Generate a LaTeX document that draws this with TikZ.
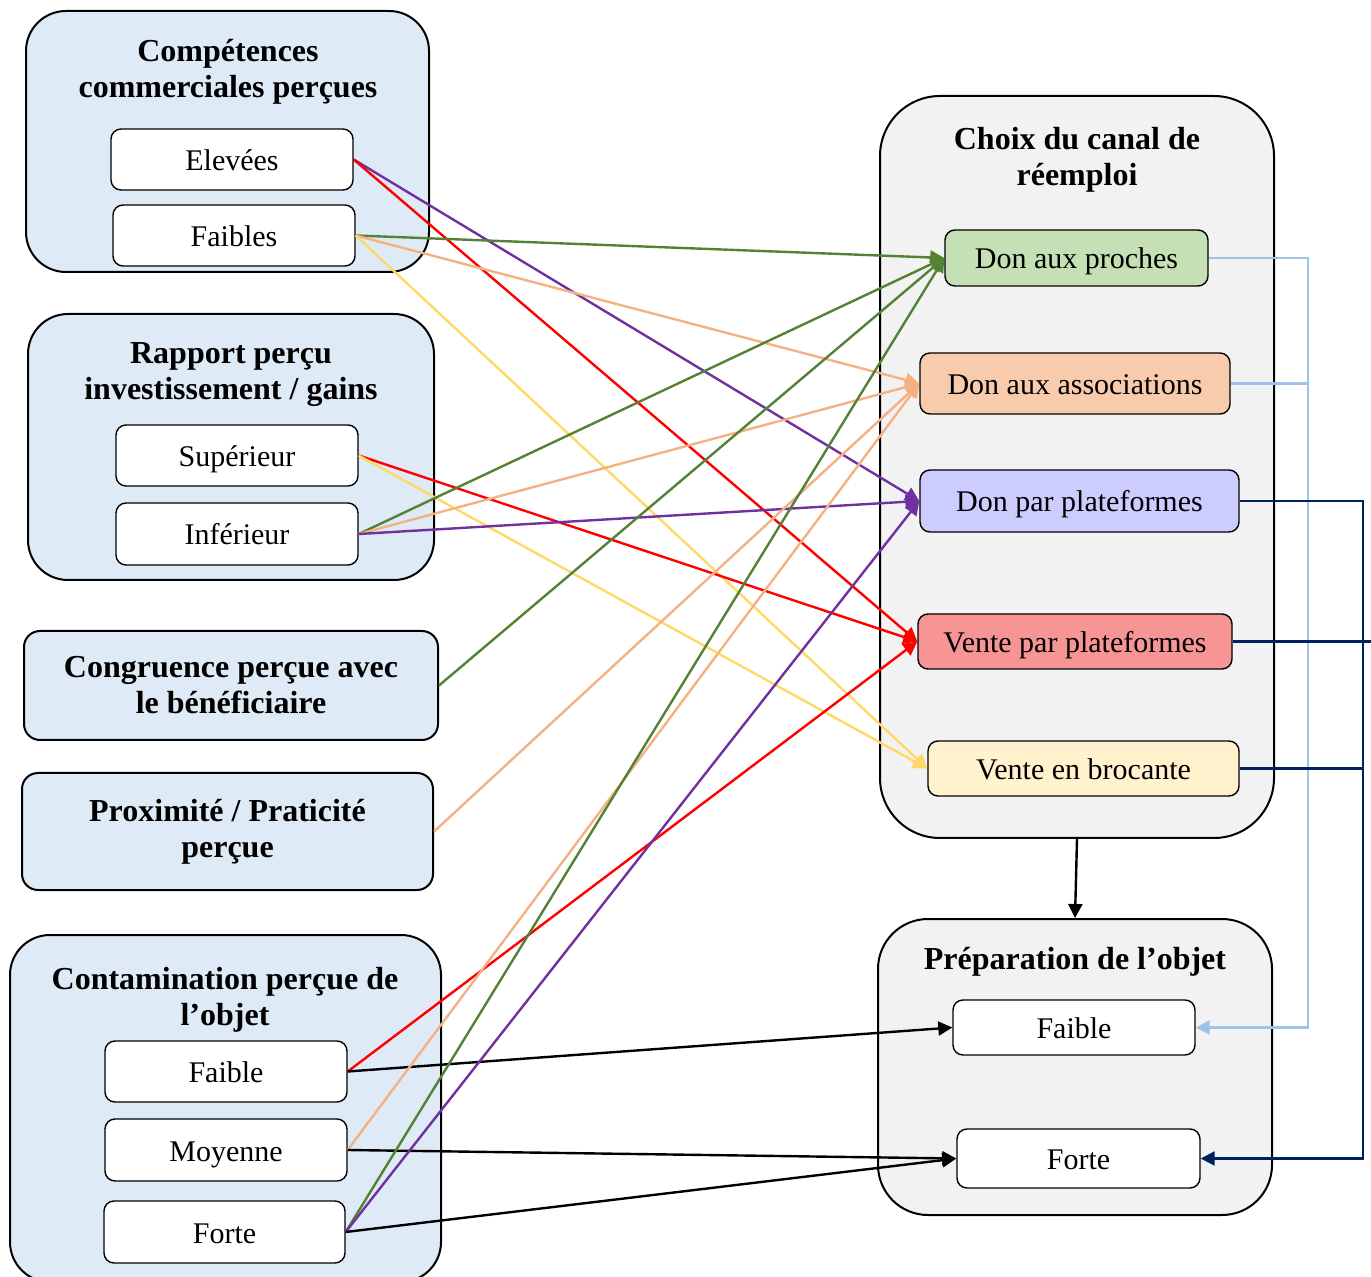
\documentclass[tikz,border=0pt]{standalone}
\usepackage{fontspec}
\setmainfont{Liberation Serif}
\usetikzlibrary{arrows.meta}
\definecolor{grpblue}{HTML}{DEEBF7}
\definecolor{grpgrey}{HTML}{F2F2F2}
\definecolor{fgreen}{HTML}{C5E0B4}
\definecolor{forange}{HTML}{F8CBAD}
\definecolor{fpurple}{HTML}{CCCCFF}
\definecolor{fred}{HTML}{F79494}
\definecolor{fyellow}{HTML}{FFF2CC}
\definecolor{cgreen}{HTML}{548235}
\definecolor{corange}{HTML}{F4B183}
\definecolor{cpurple}{HTML}{7030A0}
\definecolor{cred}{HTML}{FF0000}
\definecolor{cyellow}{HTML}{FFD966}
\definecolor{clblue}{HTML}{9DC3E6}
\definecolor{cnavy}{HTML}{002060}
\begin{document}
\begin{tikzpicture}[x=0.5pt,y=-0.5pt,
  sz/.style 2 args={minimum width=#1*0.5pt, minimum height=#2*0.5pt},
  grp/.style={draw, line width=1pt, rounded corners=20pt, inner sep=0pt},
  grpsmall/.style={draw, line width=1pt, rounded corners=8pt, inner sep=0pt, fill=grpblue, align=center, font=\fontsize{16}{18}\selectfont\bfseries},
  ttl/.style={align=center, font=\fontsize{16}{18}\selectfont\bfseries},
  item/.style={draw, line width=0.7pt, rounded corners=5pt, inner sep=0pt, font=\fontsize{15}{17}\selectfont, text depth=2pt, text height=13pt},
  conn/.style={line width=1.2pt},
  arr/.style={line width=1.2pt, -{Triangle[length=7pt,width=7pt]}},
]
\useasboundingbox (0,0) rectangle (1371,1277);

% ---- left groups ----
\node[grp, fill=grpblue, sz={403}{261}] (g1) at (227.5,141.5) {};
\node[ttl] (g1t) at (228,72) {Compétences\\commerciales perçues};
\node[item, fill=white, sz={242}{61}] (elev) at (232,159.5) {Elevées};
\node[item, fill=white, sz={242}{61}] (faibles) at (234,235.5) {Faibles};

\node[grp, fill=grpblue, sz={406}{266}] (g2) at (231,447) {};
\node[ttl] (g2t) at (231,375) {Rapport perçu\\investissement / gains};
\node[item, fill=white, sz={242}{61}] (sup) at (237,455.5) {Supérieur};
\node[item, fill=white, sz={242}{62}] (inf) at (237,534) {Inférieur};

\node[grpsmall, sz={414}{109}] (cong) at (231,685.5) {Congruence perçue avec\\le bénéficiaire};
\node[grpsmall, sz={411}{117}] (prox) at (227.5,831.5) {Proximité / Praticité\\perçue};

\node[grp, fill=grpblue, sz={431}{347}] (g5) at (225.5,1108.5) {};
\node[ttl] (g5t) at (225,1000) {Contamination perçue de\\l’objet};
\node[item, fill=white, sz={242}{61}] (cfaible) at (226,1071.5) {Faible};
\node[item, fill=white, sz={242}{62}] (cmoy) at (226,1150) {Moyenne};
\node[item, fill=white, sz={241}{62}] (cforte) at (224.5,1232) {Forte};

% ---- right groups ----
\node[grp, fill=grpgrey, rounded corners=30pt, sz={394}{742}] (choix) at (1077,467) {};
\node[ttl] (choixt) at (1077,160) {Choix du canal de\\réemploi};
\node[item, fill=fgreen, sz={263}{56}] (proches) at (1076.5,258) {Don aux proches};
\node[item, fill=forange, sz={310}{61}] (assoc) at (1075,383.5) {Don aux associations};
\node[item, fill=fpurple, sz={319}{62}] (donplat) at (1079.5,501) {Don par plateformes};
\node[item, fill=fred, sz={314}{55}] (venteplat) at (1075,641.5) {Vente par plateformes};
\node[item, fill=fyellow, sz={311}{55}] (broc) at (1083.5,768.5) {Vente en brocante};

\node[grp, fill=grpgrey, rounded corners=25pt, sz={394}{296}] (prep) at (1075,1067) {};
\node[ttl] (prept) at (1075,962) {Préparation de l’objet};
\node[item, fill=white, sz={242}{55}] (pfaible) at (1074,1027.5) {Faible};
\node[item, fill=white, sz={243}{59}] (pforte) at (1078.5,1158.5) {Forte};

% ---- connectors from left ----
\draw[arr, cpurple] (elev.east) -- (donplat.west);
\draw[arr, cred] (elev.east) -- (venteplat.west);
\draw[arr, cgreen] (faibles.east) -- (proches.west);
\draw[arr, corange] (faibles.east) -- (assoc.west);
\draw[arr, cyellow] (faibles.east) -- (broc.west);
\draw[arr, cred] (sup.east) -- (venteplat.west);
\draw[arr, cyellow] (sup.east) -- (broc.west);
\draw[arr, cgreen] (inf.east) -- (proches.west);
\draw[arr, corange] (inf.east) -- (assoc.west);
\draw[arr, cpurple] (inf.east) -- (donplat.west);
\draw[arr, cgreen] (cong.east) -- (proches.west);
\draw[arr, corange] (prox.east) -- (assoc.west);
\draw[arr, cred] (cfaible.east) -- (venteplat.west);
\draw[arr, black] (cfaible.east) -- (pfaible.west);
\draw[arr, corange] (cmoy.east) -- (assoc.west);
\draw[arr, black] (cmoy.east) -- (pforte.west);
\draw[arr, cgreen] (cforte.east) -- (proches.west);
\draw[arr, cpurple] (cforte.east) -- (donplat.west);
\draw[arr, black] (cforte.east) -- (pforte.west);

% ---- choix -> preparation ----
\draw[arr, black] (choix.south) -- (prep.north);

% ---- right-hand feedback lines ----
\coordinate (lbx) at (1308,0);
\coordinate (nvx) at (1363,0);
\coordinate (edgex) at (1371,0);
\draw[conn, clblue] (assoc.east) -- (assoc.east -| lbx);
\draw[arr, clblue] (proches.east) -- (proches.east -| lbx) -- (pfaible.east -| lbx) -- (pfaible.east);
\draw[conn, cnavy] (venteplat.east) -- (venteplat.east -| edgex);
\draw[conn, cnavy] (broc.east) -- (broc.east -| nvx);
\draw[arr, cnavy] (donplat.east) -- (donplat.east -| nvx) -- (pforte.east -| nvx) -- (pforte.east);
\end{tikzpicture}
\end{document}
